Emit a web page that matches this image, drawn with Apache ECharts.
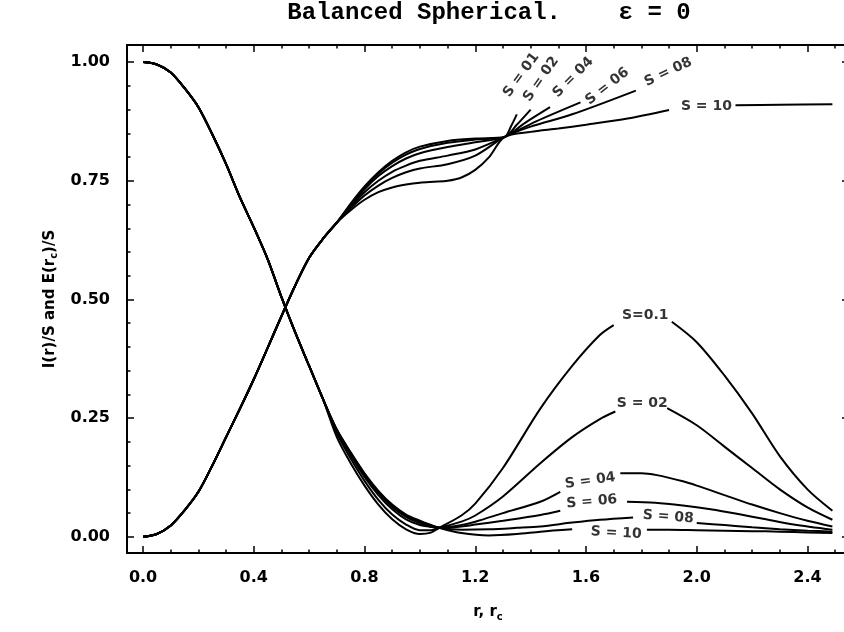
<!DOCTYPE html>
<html>
<head>
<meta charset="utf-8">
<script src="https://cdn.jsdelivr.net/npm/echarts@6/dist/echarts.min.js"></script>
<style>
html,body{margin:0;padding:0;background:#fff;}
#chart{width:844px;height:632px;}
</style>
</head>
<body>
<div id="chart"></div>
<script>
// ---- tick values ----
const xMajor = [0, 0.4, 0.8, 1.2, 1.6, 2.0, 2.4];
const xMinor = [0.1,0.2,0.3,0.5,0.6,0.7,0.9,1.0,1.1,1.3,1.4,1.5,1.7,1.8,1.9,2.1,2.2,2.3,2.5];
const yMajor = [0, 0.25, 0.5, 0.75, 1.0];
const yMinor = [0.05,0.1,0.15,0.2,0.3,0.35,0.4,0.45,0.55,0.6,0.65,0.7,0.8,0.85,0.9,0.95];

// ---- I(r)/S curves: common descending part ----
const iCommon = [[0,1.000],[0.05,0.995],[0.1,0.978],[0.15,0.945],[0.2,0.905],[0.25,0.848],[0.3,0.785],[0.35,0.715],[0.4,0.652],[0.45,0.585],[0.5,0.505],[0.55,0.43],[0.6,0.36],[0.65,0.29]];
const iS01 = [[0.7,0.21],[0.75,0.155],[0.8,0.108],[0.85,0.068],[0.9,0.037],[0.95,0.016],[1.0,0.006],[1.04,0.009],[1.07,0.019],[1.15,0.045],[1.2,0.07],[1.3,0.145],[1.435,0.27],[1.55,0.36],[1.65,0.425],[1.70,0.446],[1.8,null],[1.91,0.453],[2.0,0.41],[2.1,0.34],[2.2,0.26],[2.3,0.17],[2.4,0.1],[2.49,0.055]];
const iS02 = [[0.7,0.218],[0.75,0.165],[0.8,0.118],[0.85,0.078],[0.9,0.047],[0.95,0.026],[1.0,0.014],[1.04,0.014],[1.07,0.019],[1.15,0.032],[1.2,0.045],[1.3,0.085],[1.435,0.155],[1.55,0.21],[1.65,0.248],[1.706,0.264],[1.8,null],[1.893,0.271],[2.0,0.235],[2.1,0.19],[2.2,0.145],[2.3,0.1],[2.4,0.062],[2.49,0.036]];
const iS04 = [[0.7,0.222],[0.75,0.172],[0.8,0.126],[0.85,0.088],[0.9,0.058],[0.95,0.037],[1.0,0.025],[1.04,0.021],[1.07,0.019],[1.15,0.025],[1.2,0.032],[1.3,0.05],[1.435,0.074],[1.507,0.095],[1.6,null],[1.724,0.134],[1.8,0.134],[1.856,0.13],[1.95,0.117],[2.0,0.108],[2.1,0.088],[2.2,0.068],[2.3,0.05],[2.4,0.034],[2.49,0.022]];
const iS06 = [[0.7,0.224],[0.75,0.175],[0.8,0.13],[0.85,0.092],[0.9,0.063],[0.95,0.042],[1.0,0.029],[1.04,0.022],[1.07,0.019],[1.15,0.022],[1.2,0.026],[1.3,0.034],[1.435,0.046],[1.507,0.055],[1.6,null],[1.748,0.074],[1.85,0.072],[1.95,0.066],[2.05,0.058],[2.15,0.048],[2.25,0.037],[2.35,0.026],[2.49,0.015]];
const iS08 = [[0.7,0.225],[0.75,0.177],[0.8,0.132],[0.85,0.095],[0.9,0.066],[0.95,0.045],[1.0,0.032],[1.04,0.024],[1.07,0.019],[1.15,0.015],[1.25,0.016],[1.35,0.019],[1.435,0.022],[1.55,0.03],[1.65,0.036],[1.77,0.041],[1.85,null],[2.0,0.029],[2.1,0.025],[2.2,0.02],[2.3,0.016],[2.4,0.013],[2.49,0.011]];
const iS10 = [[0.7,0.226],[0.75,0.178],[0.8,0.134],[0.85,0.097],[0.9,0.068],[0.95,0.047],[1.0,0.034],[1.04,0.025],[1.07,0.019],[1.15,0.008],[1.25,0.003],[1.35,0.006],[1.435,0.011],[1.55,0.016],[1.7,null],[1.82,0.015],[1.9,0.015],[2.0,0.014],[2.1,0.013],[2.2,0.012],[2.3,0.011],[2.4,0.009],[2.49,0.008]];

// ---- E(rc)/S curves: common rising part ----
const eCommon = [[0,0.0],[0.05,0.006],[0.1,0.024],[0.15,0.056],[0.2,0.095],[0.25,0.15],[0.3,0.21],[0.35,0.27],[0.4,0.332],[0.45,0.398],[0.5,0.465],[0.55,0.53],[0.6,0.588],[0.65,0.628],[0.7,0.662]];
const eS01 = [[0.75,0.702],[0.8,0.738],[0.85,0.768],[0.9,0.792],[0.95,0.81],[1.0,0.822],[1.1,0.834],[1.2,0.839],[1.305,0.842],[1.33,0.866],[1.35,0.89]];
const eS02 = [[0.75,0.7],[0.8,0.736],[0.85,0.765],[0.9,0.788],[0.95,0.805],[1.0,0.817],[1.1,0.83],[1.2,0.837],[1.305,0.842],[1.35,0.868],[1.40,0.9]];
const eS04 = [[0.75,0.698],[0.8,0.732],[0.85,0.76],[0.9,0.781],[0.95,0.797],[1.0,0.808],[1.1,0.821],[1.2,0.831],[1.305,0.842],[1.38,0.872],[1.47,0.905]];
const eS06 = [[0.75,0.695],[0.8,0.726],[0.85,0.75],[0.9,0.769],[0.95,0.782],[1.0,0.792],[1.1,0.803],[1.2,0.816],[1.305,0.842],[1.42,0.875],[1.58,0.915]];
const eS08 = [[0.75,0.692],[0.8,0.719],[0.85,0.74],[0.9,0.756],[0.95,0.768],[1.0,0.776],[1.1,0.785],[1.2,0.803],[1.305,0.842],[1.4,0.864],[1.55,0.89],[1.78,0.94]];
const eS10 = [[0.75,0.688],[0.8,0.71],[0.85,0.726],[0.9,0.736],[0.95,0.742],[1.0,0.746],[1.05,0.748],[1.1,0.75],[1.15,0.757],[1.2,0.773],[1.25,0.8],[1.305,0.842],[1.4,0.853],[1.5,0.86],[1.6,0.868],[1.75,0.881],[1.9,0.899],[2.0,null],[2.14,0.909],[2.3,0.91],[2.49,0.911]];

// ---- curve labels (text, anchor in data units, angle) ----
const iLabelText = ['S=0.1','S = 02','S = 04','S = 06','S = 08','S = 10'];
const iLabelX = [1.814, 1.803, 1.615, 1.621, 1.897, 1.709];
const iLabelY = [0.467, 0.282, 0.118, 0.074, 0.042, 0.008];
const iLabelAngle = [0, 0, 8, 5, -4, -3];
const eLabelText = ['S = 01','S = 02','S = 04','S = 06','S = 08','S = 10'];
const eLabelX = [1.366, 1.438, 1.554, 1.677, 1.897, 2.035];
const eLabelY = [0.973, 0.964, 0.968, 0.949, 0.979, 0.907];
const eLabelAngle = [54, 55, 45, 38, 25, 0];

const titleText = 'Balanced Spherical.    \u03b5 = 0';

// ---- build ----
const FONT = 'DejaVu Sans';
const X_MIN = -0.058, X_MAX = 2.55, Y_MIN = -0.034, Y_MAX = 1.036;

function lineSeries(data) {
  return {
    type: 'line', xAxisIndex: 0, yAxisIndex: 0, data: data,
    showSymbol: false, symbol: 'none', smooth: 0.3,
    connectNulls: false, silent: true,
    lineStyle: {color: '#000', width: 2}
  };
}
const curves = [
  iCommon.concat(iS01), iCommon.concat(iS02), iCommon.concat(iS04),
  iCommon.concat(iS06), iCommon.concat(iS08), iCommon.concat(iS10),
  eCommon.concat(eS01), eCommon.concat(eS02), eCommon.concat(eS04),
  eCommon.concat(eS06), eCommon.concat(eS08), eCommon.concat(eS10)
];
const labelData = [];
iLabelText.forEach((t, k) => labelData.push({name: t, value: [iLabelX[k], iLabelY[k]], label: {rotate: iLabelAngle[k]}}));
eLabelText.forEach((t, k) => labelData.push({name: t, value: [eLabelX[k], eLabelY[k]], label: {rotate: eLabelAngle[k]}}));

function xAxisDef(pos, ticks, len, labels, lineShow, extra) {
  return Object.assign({
    type: 'value', position: pos, min: X_MIN, max: X_MAX,
    axisLine: {show: lineShow, onZero: false, lineStyle: {color: '#000', width: 2}},
    axisTick: {show: true, inside: true, length: len, customValues: ticks, lineStyle: {color: '#000', width: 1.5}},
    axisLabel: labels ? {show: true, customValues: labels, margin: 17, formatter: v => v.toFixed(1),
      color: '#000', fontFamily: FONT, fontWeight: 'bold', fontSize: 16} : {show: false},
    splitLine: {show: false}
  }, extra || {});
}
function yAxisDef(pos, ticks, len, labels, lineShow, extra) {
  return Object.assign({
    type: 'value', position: pos, min: Y_MIN, max: Y_MAX,
    axisLine: {show: lineShow, onZero: false, lineStyle: {color: '#000', width: 2}},
    axisTick: {show: true, inside: true, length: len, customValues: ticks, lineStyle: {color: '#000', width: 1.5}},
    axisLabel: labels ? {show: true, customValues: labels, margin: 17, formatter: v => v.toFixed(2),
      color: '#000', fontFamily: FONT, fontWeight: 'bold', fontSize: 16} : {show: false},
    splitLine: {show: false}
  }, extra || {});
}

const nameRich = {
  m: {fontFamily: FONT, fontWeight: 'bold', fontSize: 15, color: '#000', lineHeight: 18},
  s: {fontFamily: FONT, fontWeight: 'bold', fontSize: 10, color: '#000', lineHeight: 12, padding: [10, 0, 0, 0]}
};

const option = {
  animation: false,
  backgroundColor: '#fff',
  title: {
    text: titleText, left: 484, top: -4, textAlign: 'center',
    textStyle: {fontFamily: 'Liberation Mono', fontWeight: 'bold', fontSize: 24, color: '#000'}
  },
  grid: {left: 127, right: -5, top: 45, bottom: 79, containLabel: false, outerBoundsMode: 'none', show: false},
  xAxis: [
    xAxisDef('bottom', xMajor, 7, xMajor, true, {
      name: '{m|r, r}{s|c}', nameLocation: 'middle', nameGap: 50,
      nameTextStyle: {rich: nameRich}
    }),
    xAxisDef('bottom', xMinor, 3.5, null, false),
    xAxisDef('top', xMajor, 7, null, true),
    xAxisDef('top', xMinor, 3.5, null, false)
  ],
  yAxis: [
    yAxisDef('left', yMajor, 7, yMajor, true, {
      name: '{m|I(r)/S and E(r}{s|c}{m|)/S}', nameLocation: 'middle', nameGap: 68, nameRotate: 90,
      nameTextStyle: {rich: nameRich}
    }),
    yAxisDef('left', yMinor, 3.5, null, false),
    yAxisDef('right', yMajor, 7, null, true),
    yAxisDef('right', yMinor, 3.5, null, false)
  ],
  series: curves.map(lineSeries).concat([{
    type: 'scatter', xAxisIndex: 0, yAxisIndex: 0, silent: true,
    symbolSize: 1, itemStyle: {color: 'rgba(0,0,0,0)'},
    label: {show: true, position: 'inside', formatter: p => p.name, color: '#000',
      fontFamily: FONT, fontWeight: 'bold', fontSize: 14},
    data: labelData
  }])
};

const chart = echarts.init(document.getElementById('chart'), null, {renderer: 'canvas'});
chart.setOption(option);
</script>
</body>
</html>
